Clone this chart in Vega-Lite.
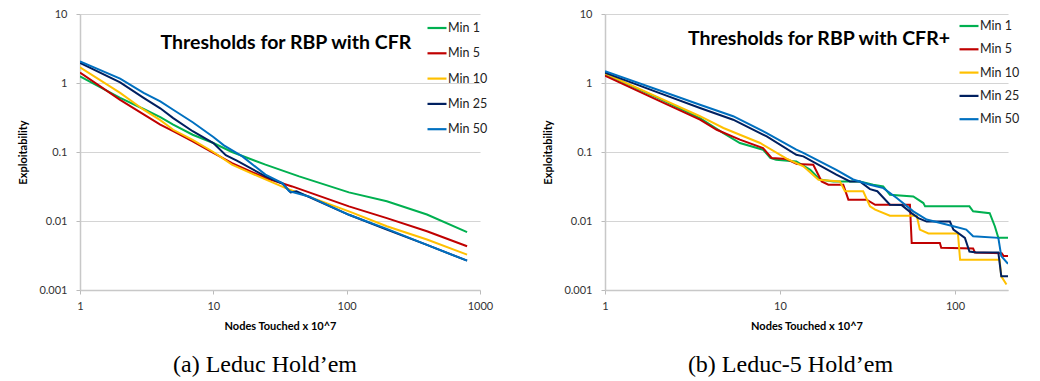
{
  "$schema": "https://vega.github.io/schema/vega-lite/v6.json",
  "padding": {"left": 17, "top": 8, "right": 0, "bottom": 0},
  "background": "white",
  "config": {
    "view": {"stroke": null},
    "font": "Lato",
    "axis": {
      "labelFont": "Lato", "labelFontSize": 11, "labelColor": "#333333", "labelFlush": false,
      "titleFont": "Lato", "titleFontSize": 11, "titleFontWeight": "bold", "titleColor": "#000000",
      "gridColor": "#d4d4d4", "gridWidth": 1.2,
      "domainColor": "#c8c8c8", "domainWidth": 1.5,
      "tickColor": "#bbbbbb", "tickSize": 4
    },
    "legend": {
      "orient": "none", "title": null,
      "symbolType": "stroke", "symbolSize": 361, "symbolStrokeWidth": 2.2,
      "labelFont": "Lato", "labelFontSize": 12.5, "labelColor": "#222222", "labelOffset": 0
    }
  },
  "datasets": {
    "leduc": [
      {"series": "Min 1", "x": 1, "y": 1.25}, {"series": "Min 1", "x": 2, "y": 0.61}, {"series": "Min 1", "x": 3, "y": 0.42}, {"series": "Min 1", "x": 4, "y": 0.32}, {"series": "Min 1", "x": 5, "y": 0.25}, {"series": "Min 1", "x": 7, "y": 0.178}, {"series": "Min 1", "x": 10, "y": 0.135}, {"series": "Min 1", "x": 13.8, "y": 0.1}, {"series": "Min 1", "x": 24.6, "y": 0.0655}, {"series": "Min 1", "x": 44, "y": 0.0443}, {"series": "Min 1", "x": 104, "y": 0.026}, {"series": "Min 1", "x": 200, "y": 0.0193}, {"series": "Min 1", "x": 400, "y": 0.0124}, {"series": "Min 1", "x": 800, "y": 0.0069},
      {"series": "Min 5", "x": 1, "y": 1.42}, {"series": "Min 5", "x": 2, "y": 0.57}, {"series": "Min 5", "x": 3, "y": 0.35}, {"series": "Min 5", "x": 4, "y": 0.25}, {"series": "Min 5", "x": 5, "y": 0.2}, {"series": "Min 5", "x": 7, "y": 0.143}, {"series": "Min 5", "x": 10, "y": 0.097}, {"series": "Min 5", "x": 13.8, "y": 0.069}, {"series": "Min 5", "x": 24.6, "y": 0.042}, {"series": "Min 5", "x": 39, "y": 0.0317}, {"series": "Min 5", "x": 104, "y": 0.0163}, {"series": "Min 5", "x": 200, "y": 0.011}, {"series": "Min 5", "x": 400, "y": 0.0071}, {"series": "Min 5", "x": 800, "y": 0.0043},
      {"series": "Min 10", "x": 1, "y": 1.69}, {"series": "Min 10", "x": 2, "y": 0.72}, {"series": "Min 10", "x": 3, "y": 0.41}, {"series": "Min 10", "x": 4, "y": 0.29}, {"series": "Min 10", "x": 5, "y": 0.21}, {"series": "Min 10", "x": 7, "y": 0.15}, {"series": "Min 10", "x": 10, "y": 0.1}, {"series": "Min 10", "x": 13.8, "y": 0.0655}, {"series": "Min 10", "x": 24.6, "y": 0.04}, {"series": "Min 10", "x": 34.9, "y": 0.03}, {"series": "Min 10", "x": 104, "y": 0.0138}, {"series": "Min 10", "x": 200, "y": 0.0084}, {"series": "Min 10", "x": 400, "y": 0.0054}, {"series": "Min 10", "x": 800, "y": 0.00325},
      {"series": "Min 25", "x": 1, "y": 1.95}, {"series": "Min 25", "x": 2, "y": 1.02}, {"series": "Min 25", "x": 3, "y": 0.61}, {"series": "Min 25", "x": 4, "y": 0.43}, {"series": "Min 25", "x": 5, "y": 0.31}, {"series": "Min 25", "x": 7, "y": 0.2}, {"series": "Min 25", "x": 10, "y": 0.135}, {"series": "Min 25", "x": 12.4, "y": 0.09}, {"series": "Min 25", "x": 15, "y": 0.075}, {"series": "Min 25", "x": 24.6, "y": 0.0443}, {"series": "Min 25", "x": 33, "y": 0.035}, {"series": "Min 25", "x": 38, "y": 0.026}, {"series": "Min 25", "x": 42, "y": 0.027}, {"series": "Min 25", "x": 104, "y": 0.0123}, {"series": "Min 25", "x": 200, "y": 0.0075}, {"series": "Min 25", "x": 400, "y": 0.0045}, {"series": "Min 25", "x": 800, "y": 0.00266},
      {"series": "Min 50", "x": 1, "y": 2.06}, {"series": "Min 50", "x": 2, "y": 1.16}, {"series": "Min 50", "x": 3, "y": 0.72}, {"series": "Min 50", "x": 4, "y": 0.54}, {"series": "Min 50", "x": 5, "y": 0.41}, {"series": "Min 50", "x": 7, "y": 0.27}, {"series": "Min 50", "x": 10, "y": 0.165}, {"series": "Min 50", "x": 12, "y": 0.125}, {"series": "Min 50", "x": 16.5, "y": 0.0865}, {"series": "Min 50", "x": 24.6, "y": 0.047}, {"series": "Min 50", "x": 32.9, "y": 0.0355}, {"series": "Min 50", "x": 37, "y": 0.027}, {"series": "Min 50", "x": 52, "y": 0.0227}, {"series": "Min 50", "x": 104, "y": 0.0123}, {"series": "Min 50", "x": 200, "y": 0.0077}, {"series": "Min 50", "x": 400, "y": 0.0045}, {"series": "Min 50", "x": 800, "y": 0.00266}
    ],
    "leduc5": [
      {"series": "Min 1", "x": 1, "y": 1.36}, {"series": "Min 1", "x": 2, "y": 0.61}, {"series": "Min 1", "x": 3.49, "y": 0.31}, {"series": "Min 1", "x": 4.75, "y": 0.188}, {"series": "Min 1", "x": 5.9, "y": 0.135}, {"series": "Min 1", "x": 8, "y": 0.108}, {"series": "Min 1", "x": 8.8, "y": 0.082}, {"series": "Min 1", "x": 9.5, "y": 0.077}, {"series": "Min 1", "x": 12.4, "y": 0.073}, {"series": "Min 1", "x": 14.9, "y": 0.055}, {"series": "Min 1", "x": 16.9, "y": 0.04}, {"series": "Min 1", "x": 20.2, "y": 0.0375}, {"series": "Min 1", "x": 28.6, "y": 0.0375}, {"series": "Min 1", "x": 34.1, "y": 0.0336}, {"series": "Min 1", "x": 38.9, "y": 0.0317}, {"series": "Min 1", "x": 42.5, "y": 0.024}, {"series": "Min 1", "x": 57.8, "y": 0.0227}, {"series": "Min 1", "x": 66, "y": 0.0182}, {"series": "Min 1", "x": 67.5, "y": 0.0163}, {"series": "Min 1", "x": 121, "y": 0.0163}, {"series": "Min 1", "x": 127, "y": 0.0138}, {"series": "Min 1", "x": 158, "y": 0.013}, {"series": "Min 1", "x": 169, "y": 0.0084}, {"series": "Min 1", "x": 177, "y": 0.0057}, {"series": "Min 1", "x": 201, "y": 0.0057},
      {"series": "Min 5", "x": 1, "y": 1.28}, {"series": "Min 5", "x": 2, "y": 0.566}, {"series": "Min 5", "x": 3.49, "y": 0.294}, {"series": "Min 5", "x": 4.35, "y": 0.21}, {"series": "Min 5", "x": 5.9, "y": 0.151}, {"series": "Min 5", "x": 8, "y": 0.114}, {"series": "Min 5", "x": 8.96, "y": 0.082}, {"series": "Min 5", "x": 10.9, "y": 0.079}, {"series": "Min 5", "x": 12.5, "y": 0.067}, {"series": "Min 5", "x": 15.5, "y": 0.0655}, {"series": "Min 5", "x": 17.3, "y": 0.0375}, {"series": "Min 5", "x": 18.9, "y": 0.0336}, {"series": "Min 5", "x": 23, "y": 0.0336}, {"series": "Min 5", "x": 24.6, "y": 0.0204}, {"series": "Min 5", "x": 31.3, "y": 0.0204}, {"series": "Min 5", "x": 35, "y": 0.0172}, {"series": "Min 5", "x": 55.3, "y": 0.0172}, {"series": "Min 5", "x": 56.6, "y": 0.0048}, {"series": "Min 5", "x": 82, "y": 0.0048}, {"series": "Min 5", "x": 83.5, "y": 0.0041}, {"series": "Min 5", "x": 127, "y": 0.004}, {"series": "Min 5", "x": 130, "y": 0.0035}, {"series": "Min 5", "x": 185, "y": 0.0034}, {"series": "Min 5", "x": 190, "y": 0.0031}, {"series": "Min 5", "x": 201, "y": 0.0031},
      {"series": "Min 10", "x": 1, "y": 1.38}, {"series": "Min 10", "x": 2, "y": 0.625}, {"series": "Min 10", "x": 3.49, "y": 0.33}, {"series": "Min 10", "x": 4.75, "y": 0.223}, {"series": "Min 10", "x": 5.9, "y": 0.178}, {"series": "Min 10", "x": 7.7, "y": 0.135}, {"series": "Min 10", "x": 10.9, "y": 0.08}, {"series": "Min 10", "x": 13.6, "y": 0.062}, {"series": "Min 10", "x": 16.6, "y": 0.0397}, {"series": "Min 10", "x": 22, "y": 0.0375}, {"series": "Min 10", "x": 23.5, "y": 0.0269}, {"series": "Min 10", "x": 29.9, "y": 0.0269}, {"series": "Min 10", "x": 32.7, "y": 0.0163}, {"series": "Min 10", "x": 35, "y": 0.0146}, {"series": "Min 10", "x": 42.5, "y": 0.0119}, {"series": "Min 10", "x": 60.5, "y": 0.0119}, {"series": "Min 10", "x": 63, "y": 0.0075}, {"series": "Min 10", "x": 70.5, "y": 0.0066}, {"series": "Min 10", "x": 104, "y": 0.0066}, {"series": "Min 10", "x": 107, "y": 0.00275}, {"series": "Min 10", "x": 180, "y": 0.00275}, {"series": "Min 10", "x": 184, "y": 0.00158}, {"series": "Min 10", "x": 197, "y": 0.0012},
      {"series": "Min 25", "x": 1, "y": 1.41}, {"series": "Min 25", "x": 2, "y": 0.73}, {"series": "Min 25", "x": 3.49, "y": 0.434}, {"series": "Min 25", "x": 5.4, "y": 0.294}, {"series": "Min 25", "x": 8.4, "y": 0.168}, {"series": "Min 25", "x": 12.4, "y": 0.091}, {"series": "Min 25", "x": 13.6, "y": 0.0865}, {"series": "Min 25", "x": 21, "y": 0.047}, {"series": "Min 25", "x": 25.1, "y": 0.0375}, {"series": "Min 25", "x": 28.6, "y": 0.0375}, {"series": "Min 25", "x": 32.7, "y": 0.029}, {"series": "Min 25", "x": 36, "y": 0.027}, {"series": "Min 25", "x": 42.5, "y": 0.0172}, {"series": "Min 25", "x": 49.6, "y": 0.017}, {"series": "Min 25", "x": 56.5, "y": 0.013}, {"series": "Min 25", "x": 61.8, "y": 0.011}, {"series": "Min 25", "x": 68.9, "y": 0.0098}, {"series": "Min 25", "x": 93.6, "y": 0.0098}, {"series": "Min 25", "x": 98, "y": 0.0075}, {"series": "Min 25", "x": 114, "y": 0.0057}, {"series": "Min 25", "x": 121, "y": 0.0036}, {"series": "Min 25", "x": 133, "y": 0.0035}, {"series": "Min 25", "x": 177, "y": 0.0035}, {"series": "Min 25", "x": 184, "y": 0.00158}, {"series": "Min 25", "x": 201, "y": 0.00158},
      {"series": "Min 50", "x": 1, "y": 1.48}, {"series": "Min 50", "x": 2, "y": 0.8}, {"series": "Min 50", "x": 3.49, "y": 0.485}, {"series": "Min 50", "x": 5.4, "y": 0.33}, {"series": "Min 50", "x": 8.4, "y": 0.188}, {"series": "Min 50", "x": 12.4, "y": 0.108}, {"series": "Min 50", "x": 13.6, "y": 0.097}, {"series": "Min 50", "x": 21, "y": 0.055}, {"series": "Min 50", "x": 26.2, "y": 0.04}, {"series": "Min 50", "x": 32.7, "y": 0.0336}, {"series": "Min 50", "x": 39, "y": 0.03}, {"series": "Min 50", "x": 46.5, "y": 0.0215}, {"series": "Min 50", "x": 57.8, "y": 0.0138}, {"series": "Min 50", "x": 68.9, "y": 0.0105}, {"series": "Min 50", "x": 98, "y": 0.0084}, {"series": "Min 50", "x": 116, "y": 0.0075}, {"series": "Min 50", "x": 127, "y": 0.006}, {"series": "Min 50", "x": 177, "y": 0.0057}, {"series": "Min 50", "x": 184, "y": 0.0031}, {"series": "Min 50", "x": 201, "y": 0.0024}
    ],
    "headA": [{"t": "Thresholds for RBP with CFR"}],
    "headB": [{"t": "Thresholds for RBP with CFR+"}]
  },
  "spacing": 49,
  "resolve": {"scale": {"color": "independent", "x": "independent", "y": "independent"}, "legend": {"color": "independent"}},
  "hconcat": [
    {
      "width": 400, "height": 276,
      "title": {"text": "(a) Leduc Hold’em", "orient": "bottom", "frame": "group", "dx": -15, "offset": 22, "font": "Liberation Serif", "fontSize": 24, "fontWeight": "normal", "color": "#000000"},
      "layer": [
        {
          "data": {"name": "leduc"},
          "mark": {"type": "line", "strokeWidth": 2, "clip": true},
          "encoding": {
            "x": {"field": "x", "type": "quantitative", "scale": {"type": "log", "domain": [1, 1000], "nice": false}, "axis": {"values": [1, 10, 100, 1000], "format": "~g", "grid": false, "title": "Nodes Touched x 10^7", "labelPadding": 6, "titlePadding": 9}},
            "y": {"field": "y", "type": "quantitative", "scale": {"type": "log", "domain": [0.001, 10], "nice": false}, "axis": {"values": [0.001, 0.01, 0.1, 1, 10], "format": "~g", "grid": true, "title": "Exploitability", "labelPadding": 9, "titlePadding": 10}},
            "color": {"field": "series", "type": "nominal", "scale": {"domain": ["Min 1", "Min 5", "Min 10", "Min 25", "Min 50"], "range": ["#00B050", "#C00000", "#FFC000", "#002060", "#0070C0"]}, "legend": {"legendX": 346, "legendY": 3, "rowPadding": 7.3}},
            "order": {"field": "x", "type": "quantitative"}
          }
        },
        {
          "data": {"name": "headA"},
          "mark": {"type": "text", "font": "Lato", "fontSize": 19.5, "fontWeight": "bold", "color": "#000000", "align": "center", "baseline": "middle"},
          "encoding": {"x": {"datum": 35}, "y": {"datum": 3.8}, "text": {"field": "t"}}
        }
      ]
    },
    {
      "width": 403, "height": 276,
      "title": {"text": "(b) Leduc-5 Hold’em", "orient": "bottom", "frame": "group", "dx": -16, "offset": 22, "font": "Liberation Serif", "fontSize": 24, "fontWeight": "normal", "color": "#000000"},
      "layer": [
        {
          "data": {"name": "leduc5"},
          "mark": {"type": "line", "strokeWidth": 2, "clip": true},
          "encoding": {
            "x": {"field": "x", "type": "quantitative", "scale": {"type": "log", "domain": [1, 201], "nice": false}, "axis": {"values": [1, 10, 100], "format": "~g", "grid": false, "title": "Nodes Touched x 10^7", "labelPadding": 6, "titlePadding": 9}},
            "y": {"field": "y", "type": "quantitative", "scale": {"type": "log", "domain": [0.001, 10], "nice": false}, "axis": {"values": [0.001, 0.01, 0.1, 1, 10], "format": "~g", "grid": true, "title": "Exploitability", "labelPadding": 9, "titlePadding": 10}},
            "color": {"field": "series", "type": "nominal", "scale": {"domain": ["Min 1", "Min 5", "Min 10", "Min 25", "Min 50"], "range": ["#00B050", "#C00000", "#FFC000", "#002060", "#0070C0"]}, "legend": {"legendX": 353, "legendY": 1, "rowPadding": 5.3}},
            "order": {"field": "x", "type": "quantitative"}
          }
        },
        {
          "data": {"name": "headB"},
          "mark": {"type": "text", "font": "Lato", "fontSize": 19.5, "fontWeight": "bold", "color": "#000000", "align": "center", "baseline": "middle"},
          "encoding": {"x": {"datum": 16.7}, "y": {"datum": 4.4}, "text": {"field": "t"}}
        }
      ]
    }
  ]
}
